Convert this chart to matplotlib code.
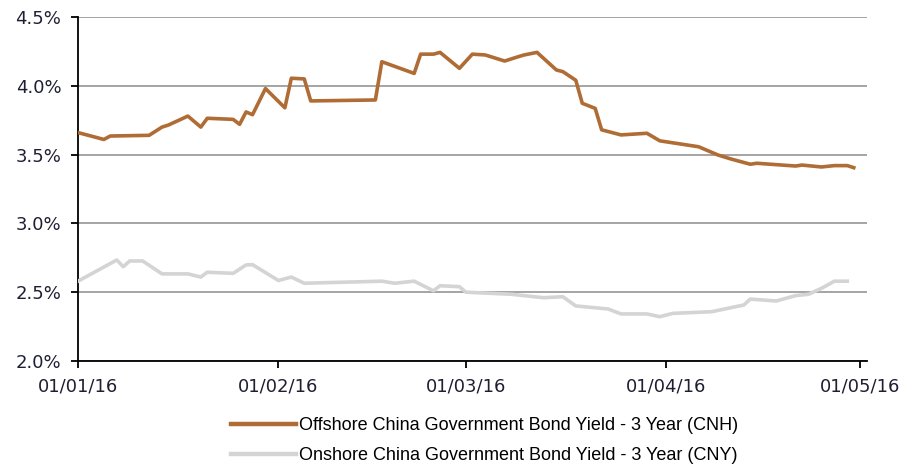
import pandas as pd
import matplotlib
matplotlib.use("Agg")
import matplotlib.pyplot as plt
import matplotlib.dates as mdates
from matplotlib.ticker import FuncFormatter

plt.rcParams['font.family'] = ['DejaVu Sans']

# 3 year government bond yields, %
cnh_dates = ["2016-01-01", "2016-01-05", "2016-01-06", "2016-01-12", "2016-01-14",
             "2016-01-15", "2016-01-18", "2016-01-20", "2016-01-21", "2016-01-25",
             "2016-01-26", "2016-01-27", "2016-01-28", "2016-01-30", "2016-02-02",
             "2016-02-03", "2016-02-05", "2016-02-06", "2016-02-16", "2016-02-17",
             "2016-02-22", "2016-02-23", "2016-02-25", "2016-02-26", "2016-02-29",
             "2016-03-02", "2016-03-04", "2016-03-07", "2016-03-09", "2016-03-10",
             "2016-03-12", "2016-03-15", "2016-03-16", "2016-03-18", "2016-03-19",
             "2016-03-21", "2016-03-22", "2016-03-25", "2016-03-29", "2016-03-31",
             "2016-04-06", "2016-04-09", "2016-04-11", "2016-04-14", "2016-04-15",
             "2016-04-21", "2016-04-22", "2016-04-25", "2016-04-27", "2016-04-29",
             "2016-04-30"]
cnh_yield = [3.66, 3.61, 3.635, 3.64, 3.70,
             3.715, 3.78, 3.70, 3.764, 3.756,
             3.72, 3.81, 3.79, 3.98, 3.84,
             4.055, 4.05, 3.89, 3.897, 4.175,
             4.09, 4.23, 4.23, 4.243, 4.127,
             4.23, 4.224, 4.18, 4.21, 4.224,
             4.243, 4.115, 4.103, 4.04, 3.873,
             3.836, 3.68, 3.643, 3.655, 3.60,
             3.557, 3.497, 3.468, 3.43, 3.437,
             3.417, 3.424, 3.41, 3.42, 3.42,
             3.405]

cny_dates = ["2016-01-01", "2016-01-07", "2016-01-08", "2016-01-09", "2016-01-11",
             "2016-01-14", "2016-01-18", "2016-01-20", "2016-01-21", "2016-01-25",
             "2016-01-27", "2016-01-28", "2016-02-01", "2016-02-03", "2016-02-05",
             "2016-02-17", "2016-02-19", "2016-02-22", "2016-02-25", "2016-02-26",
             "2016-02-29", "2016-03-01", "2016-03-08", "2016-03-13", "2016-03-16",
             "2016-03-18", "2016-03-23", "2016-03-25", "2016-03-29", "2016-03-31",
             "2016-04-02", "2016-04-08", "2016-04-13", "2016-04-14", "2016-04-18",
             "2016-04-21", "2016-04-23", "2016-04-25", "2016-04-27", "2016-04-29"]
cny_yield = [2.58, 2.734, 2.685, 2.727, 2.727,
             2.633, 2.633, 2.61, 2.645, 2.637,
             2.698, 2.70, 2.585, 2.61, 2.565,
             2.58, 2.565, 2.58, 2.51, 2.547,
             2.54, 2.50, 2.485, 2.46, 2.467,
             2.40, 2.378, 2.342, 2.342, 2.322,
             2.346, 2.358, 2.407, 2.45, 2.436,
             2.475, 2.485, 2.528, 2.58, 2.58]

cnh_label = "Offshore China Government Bond Yield - 3 Year (CNH)"
cny_label = "Onshore China Government Bond Yield - 3 Year (CNY)"
month_ticks = ["2016-01-01", "2016-02-01", "2016-03-01", "2016-04-01", "2016-05-01"]

fig = plt.figure(figsize=(9.24, 4.67), dpi=100)
ax = fig.add_axes([0.0844, 0.227, 0.8536, 0.7366])

ax.plot(pd.to_datetime(cnh_dates), cnh_yield, color='#B06C35', lw=2.6,
        solid_joinstyle='round', label=cnh_label, zorder=3)
ax.plot(pd.to_datetime(cny_dates), cny_yield, color='#D4D4D4', lw=2.6,
        solid_joinstyle='round', label=cny_label, zorder=3)

ax.set_ylim(2.0, 4.5)
ax.set_yticks([2.0, 2.5, 3.0, 3.5, 4.0, 4.5])
ax.yaxis.set_major_formatter(FuncFormatter(lambda v, p: f"{v:.1f}%"))
ax.set_xlim(pd.Timestamp("2016-01-01"), pd.Timestamp("2016-05-02"))
ax.set_xticks(pd.to_datetime(month_ticks))
ax.xaxis.set_major_formatter(mdates.DateFormatter("%d/%m/%y"))

ax.grid(axis='y', color='#8c8c8c', lw=1.1)
ax.set_axisbelow(True)
for s in ['top', 'right']:
    ax.spines[s].set_visible(False)
for s in ['left', 'bottom']:
    ax.spines[s].set_color('black')
    ax.spines[s].set_linewidth(1.3)
ax.tick_params(axis='both', colors='black', labelcolor='#1f1f33', labelsize=13,
               length=5, width=1.3)
ax.tick_params(axis='x', pad=7)
ax.tick_params(axis='y', pad=7)

leg = fig.legend(loc='upper left', bbox_to_anchor=(0.232, 0.141), frameon=False,
                 handlelength=3.6, handletextpad=0.2, labelspacing=0.72,
                 prop={'family': 'Liberation Sans', 'size': 13})
for h in leg.get_lines():
    h.set_linewidth(3.2)

fig.savefig("out.png", dpi=100)
